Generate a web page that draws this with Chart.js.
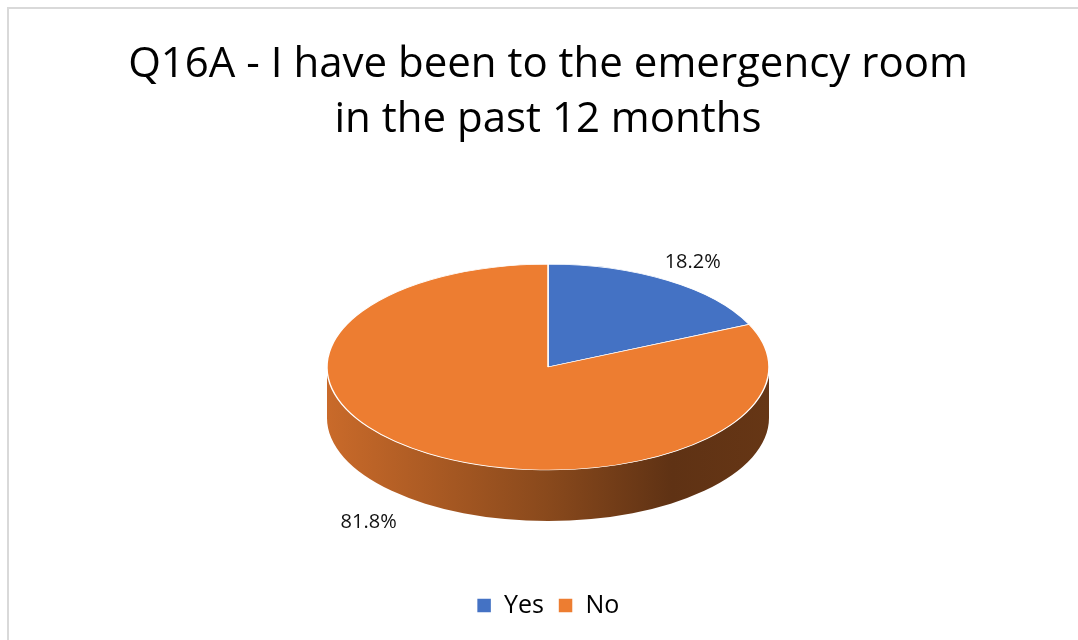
<!DOCTYPE html>
<html>
<head>
<meta charset="utf-8">
<script src="https://cdn.jsdelivr.net/npm/chart.js@4"></script>
<style>
  html, body { margin: 0; padding: 0; background: #fff; }
  #wrap { position: relative; width: 1078px; height: 640px; overflow: hidden; }
  #frame { position: absolute; left: 7px; top: 7px; width: 1120px; height: 700px;
           border: 2px solid #d9d9d9; box-sizing: border-box; }
  canvas { position: absolute; left: 0; top: 0; }
</style>
</head>
<body>
<div id="wrap">
  <div id="frame"></div>
  <canvas id="erChart" width="1078" height="640"></canvas>
</div>
<script>
// survey answers
const categories = ['Yes', 'No'];
const shares = [18.2, 81.8];
const sliceColors = ['#4472C4', '#ED7D31'];
const titleLines = ['Q16A - I have been to the emergency room', 'in the past 12 months'];

const TILT = 0.466;   // how flat the pie looks (ry / rx)
const DEPTH = 51;     // thickness of the pie wall
const labelReach = [1.21, 1.5]; // how far out each percentage sits

// darken a hex colour by factor f
function shade(hex, f) {
  const n = parseInt(hex.slice(1), 16);
  const r = Math.round(((n >> 16) & 255) * f);
  const g = Math.round(((n >> 8) & 255) * f);
  const b = Math.round((n & 255) * f);
  return `rgb(${r},${g},${b})`;
}

// fake 3D: draw the wall, then squash the arcs into an ellipse
const pie3d = {
  id: 'pie3d',
  beforeDatasetsDraw(chart) {
    const ctx = chart.ctx;
    const arcs = chart.getDatasetMeta(0).data;
    const cx = arcs[0].x, cy = arcs[0].y;
    const rx = arcs[0].outerRadius, ry = rx * TILT;

    arcs.forEach((arc, i) => {
      // only the front half (angles 0..PI) is visible
      [0, 2 * Math.PI].forEach(off => {
        const a = Math.max(arc.startAngle, off);
        const b = Math.min(arc.endAngle, off + Math.PI);
        if (b <= a) return;
        const grad = ctx.createLinearGradient(cx - rx, 0, cx + rx, 0);
        grad.addColorStop(0, shade(sliceColors[i], 0.85));
        grad.addColorStop(0.5, shade(sliceColors[i], 0.58));
        grad.addColorStop(0.78, shade(sliceColors[i], 0.40));
        grad.addColorStop(1, shade(sliceColors[i], 0.43));
        ctx.beginPath();
        ctx.ellipse(cx, cy, rx, ry, 0, a, b);
        ctx.ellipse(cx, cy + DEPTH, rx, ry, 0, b, a, true);
        ctx.closePath();
        ctx.fillStyle = grad;
        ctx.fill();
      });
    });

    ctx.save();
    ctx.translate(cx, cy);
    ctx.scale(1, TILT);
    ctx.translate(-cx, -cy);
  },
  afterDatasetsDraw(chart) {
    const ctx = chart.ctx;
    ctx.restore();

    const arcs = chart.getDatasetMeta(0).data;
    const cx = arcs[0].x, cy = arcs[0].y;
    const rx = arcs[0].outerRadius, ry = rx * TILT;

    ctx.save();
    ctx.font = '20px "Open Sans"';
    ctx.fillStyle = '#111';
    ctx.textAlign = 'center';
    ctx.textBaseline = 'middle';
    arcs.forEach((arc, i) => {
      const mid = (arc.startAngle + arc.endAngle) / 2;
      const x = cx + Math.cos(mid) * rx * labelReach[i];
      let y = cy + Math.sin(mid) * ry * labelReach[i];
      if (Math.sin(mid) > 0) y += DEPTH * 0.5;
      ctx.fillText(shares[i].toFixed(1) + '%', x, y);
    });
    ctx.restore();
  }
};

new Chart(document.getElementById('erChart'), {
  type: 'pie',
  data: {
    labels: categories,
    datasets: [{
      data: shares,
      backgroundColor: sliceColors,
      borderColor: '#ffffff',
      borderWidth: 1.5,
      radius: 221,
      clip: false
    }]
  },
  options: {
    responsive: false,
    animation: false,
    events: [],
    layout: { padding: { left: 18, top: 0, bottom: 12 } },
    plugins: {
      title: {
        display: true,
        text: titleLines,
        color: '#000',
        font: { family: '"Open Sans"', size: 42, weight: 'normal', lineHeight: 1.31 },
        padding: { top: 38, bottom: 7 }
      },
      legend: {
        position: 'bottom',
        labels: {
          color: '#000',
          font: { family: '"Open Sans"', size: 25 },
          boxWidth: 15,
          boxHeight: 15,
          padding: 14
        }
      },
      tooltip: { enabled: false }
    }
  },
  plugins: [pie3d]
});
</script>
</body>
</html>
